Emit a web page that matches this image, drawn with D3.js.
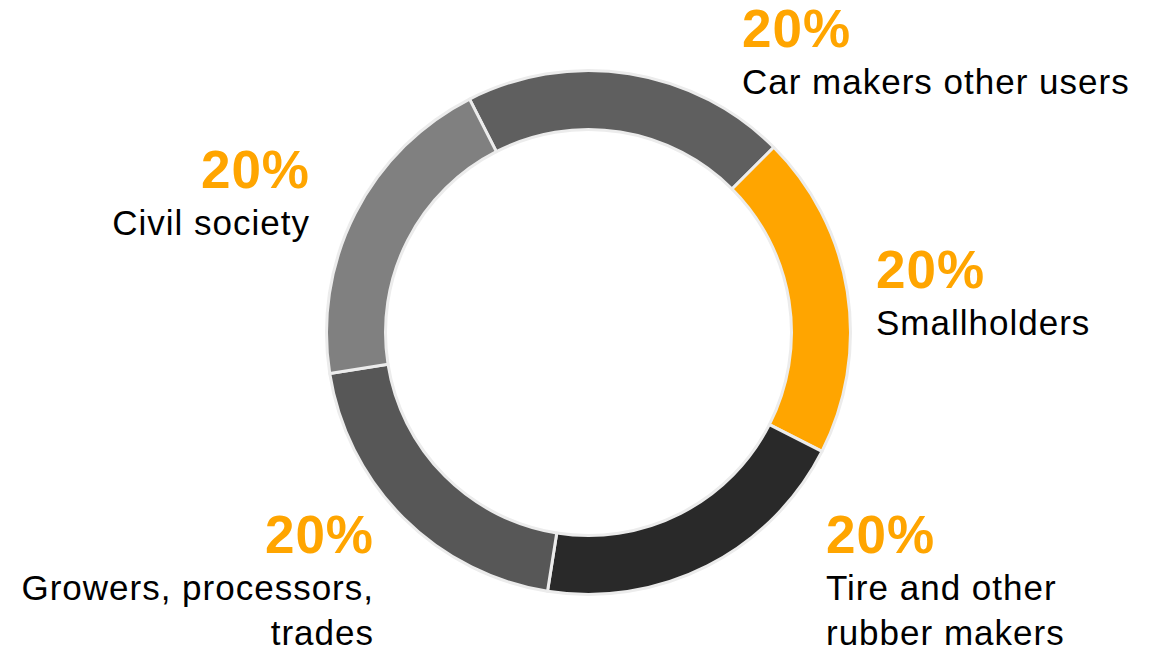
<!DOCTYPE html>
<html lang="en">
<head>
    <meta charset="UTF-8">
    <title>Stakeholder shares</title>
    <style>
        html, body { margin: 0; padding: 0; background: #fff; }
        svg { display: block; }
        text { font-family: "Liberation Sans", Arial, sans-serif; }
    </style>
</head>
<body>
    <svg id="donut"></svg>

    <script src="https://d3js.org/d3.v7.min.js"></script>
    <script>
        // --- DADOS ---
        const categories = ["Car makers other users", "Smallholders", "Tire and other rubber makers", "Growers, processors, trades", "Civil society"];
        const shares = [20, 20, 20, 20, 20];
        const labelLines = [
            ["Car makers other users"],
            ["Smallholders"],
            ["Tire and other", "rubber makers"],
            ["Growers, processors,", "trades"],
            ["Civil society"]
        ];

        // --- LAYOUT ---
        const colors = ["#5f5f5f", "#ffa500", "#292929", "#575757", "#808080"];
        const labelPos = [
            { x: 742, y: 47, anchor: "start" },
            { x: 876, y: 288, anchor: "start" },
            { x: 826, y: 553, anchor: "start" },
            { x: 374, y: 553, anchor: "end" },
            { x: 310, y: 188, anchor: "end" }
        ];

        const width = 1157, height = 652;
        const cx = 588.5, cy = 332.5;
        const outerR = 262, innerR = 203;

        const svg = d3.select("#donut")
            .attr("width", width)
            .attr("height", height);

        const data = categories.map((c, i) => ({ name: c, value: shares[i], i }));

        const startA = -27 * Math.PI / 180;
        const pie = d3.pie()
            .sort(null)
            .value(d => d.value)
            .startAngle(startA)
            .endAngle(startA + 2 * Math.PI);

        const arc = d3.arc().innerRadius(innerR).outerRadius(outerR);

        const g = svg.append("g").attr("transform", `translate(${cx},${cy})`);

        g.selectAll("path")
            .data(pie(data))
            .join("path")
            .attr("d", arc)
            .attr("fill", d => colors[d.data.i])
            .attr("stroke", "#ececec")
            .attr("stroke-width", 3)
            .attr("stroke-linejoin", "round");

        // rótulos
        const labels = svg.selectAll(".lbl")
            .data(data)
            .join("g")
            .attr("class", "lbl");

        labels.append("text")
            .attr("x", d => labelPos[d.i].x)
            .attr("y", d => labelPos[d.i].y)
            .attr("text-anchor", d => labelPos[d.i].anchor)
            .attr("font-size", 53)
            .attr("font-weight", "bold")
            .attr("letter-spacing", 1)
            .attr("fill", "#ffa500")
            .text(d => d.value + "%");

        labels.each(function(d) {
            const sel = d3.select(this);
            labelLines[d.i].forEach((line, k) => {
                sel.append("text")
                    .attr("x", labelPos[d.i].x)
                    .attr("y", labelPos[d.i].y + 47 + k * 45)
                    .attr("text-anchor", labelPos[d.i].anchor)
                    .attr("font-size", 35)
                    .attr("letter-spacing", 1)
                    .attr("fill", "#000")
                    .text(line);
            });
        });
    </script>
</body>
</html>
